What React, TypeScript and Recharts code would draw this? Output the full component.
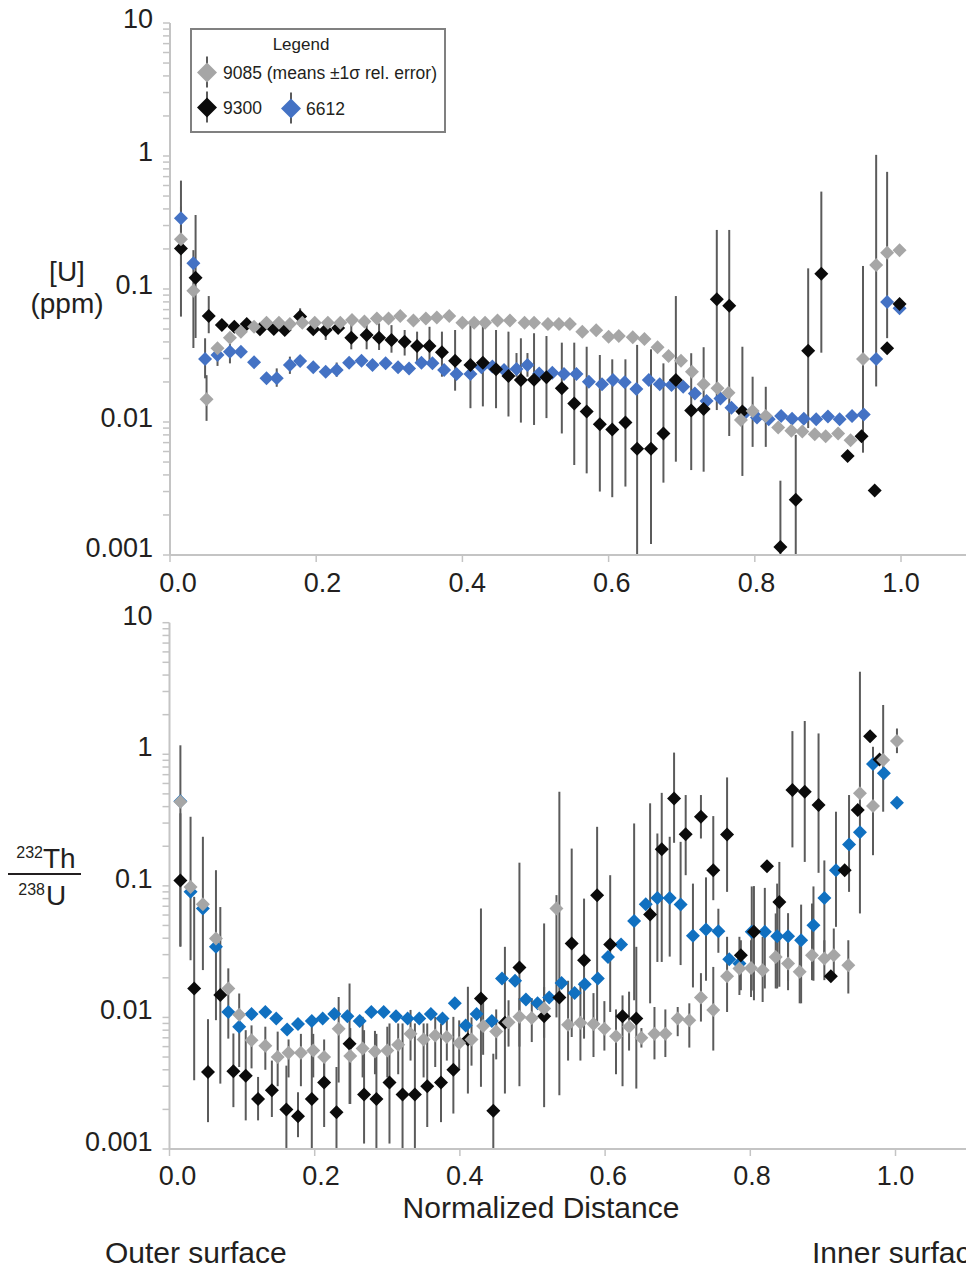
import { ScatterChart, Scatter, XAxis, YAxis, ErrorBar } from "recharts";

type Err = [number, number, number]; // [point index, lower end, upper end]

const FONT = '"Liberation Sans", Arial, Helvetica, sans-serif';
const INK = "#231f20";
const AXIS = "#c4c4c4";
const BAR = "#5b5b5b";

const xTicks = [0, 0.2, 0.4, 0.6, 0.8, 1.0];
const xTickLabels = ["0.0", "0.2", "0.4", "0.6", "0.8", "1.0"];
const decades = [0.001, 0.01, 0.1, 1, 10];
const decadeLabels = ["0.001", "0.01", "0.1", "1", "10"];
const minorSteps = [2, 3, 4, 5, 6, 7, 8, 9];

// ---- [U] (ppm) panel ----
const uGrayX = [0.015, 0.032, 0.05, 0.065, 0.082, 0.097, 0.115, 0.132, 0.149, 0.164, 0.181, 0.198, 0.216, 0.233, 0.249, 0.266, 0.283, 0.299, 0.315, 0.333, 0.35, 0.365, 0.382, 0.4, 0.416, 0.431, 0.448, 0.465, 0.485, 0.498, 0.517, 0.532, 0.547, 0.564, 0.583, 0.6, 0.614, 0.633, 0.649, 0.667, 0.682, 0.699, 0.714, 0.73, 0.749, 0.764, 0.781, 0.797, 0.815, 0.832, 0.85, 0.865, 0.882, 0.897, 0.914, 0.931, 0.948, 0.966, 0.981, 0.998];
const uGrayY = [0.237, 0.097, 0.0148, 0.0358, 0.043, 0.0478, 0.052, 0.0558, 0.0558, 0.0546, 0.0558, 0.0558, 0.0558, 0.0558, 0.0585, 0.057, 0.06, 0.06, 0.0627, 0.058, 0.06, 0.061, 0.0627, 0.0558, 0.0558, 0.0558, 0.058, 0.058, 0.0558, 0.0558, 0.0546, 0.0546, 0.0546, 0.0478, 0.049, 0.0438, 0.0443, 0.0434, 0.042, 0.0365, 0.0313, 0.0289, 0.0239, 0.0192, 0.0179, 0.0166, 0.01035, 0.0121, 0.0111, 0.0091, 0.0086, 0.0085, 0.0081, 0.0078, 0.0082, 0.0073, 0.0298, 0.1515, 0.1875, 0.196];
const uGrayErr: Err[] = [[0, 0.147, 0.416], [1, 0.036, 0.196], [2, 0.0102, 0.0225], [47, 0.0065, 0.0219], [48, 0.0065, 0.0184], [56, 0.00588, 0.149], [57, 0.0185, 1.02], [58, 0.0427, 0.76]];

const uBlackX = [0.015, 0.035, 0.053, 0.071, 0.088, 0.105, 0.123, 0.142, 0.157, 0.178, 0.196, 0.213, 0.23, 0.248, 0.269, 0.286, 0.303, 0.321, 0.338, 0.355, 0.372, 0.39, 0.411, 0.428, 0.446, 0.463, 0.48, 0.498, 0.515, 0.536, 0.553, 0.57, 0.588, 0.605, 0.623, 0.639, 0.658, 0.675, 0.692, 0.713, 0.73, 0.748, 0.765, 0.783, 0.835, 0.856, 0.873, 0.891, 0.927, 0.946, 0.964, 0.981, 0.998];
const uBlackY = [0.202, 0.1216, 0.0627, 0.0536, 0.052, 0.0546, 0.0498, 0.05, 0.0492, 0.062, 0.0498, 0.0492, 0.051, 0.043, 0.045, 0.043, 0.0414, 0.0402, 0.0373, 0.0373, 0.0334, 0.0289, 0.0268, 0.0279, 0.0249, 0.0222, 0.0207, 0.0208, 0.0217, 0.0179, 0.0138, 0.012, 0.0096, 0.0088, 0.0099, 0.0063, 0.0063, 0.0082, 0.0207, 0.0122, 0.0125, 0.0838, 0.0749, 0.012, 0.00115, 0.0026, 0.0344, 0.13, 0.00555, 0.0078, 0.00305, 0.0358, 0.077];
const uBlackErr: Err[] = [[0, 0.062, 0.653], [1, 0.0428, 0.36], [2, 0.0465, 0.0885], [9, 0.052, 0.0716], [11, 0.0414, 0.0566], [13, 0.0352, 0.0566], [14, 0.0352, 0.058], [15, 0.0348, 0.0552], [16, 0.0332, 0.0535], [17, 0.0316, 0.0492], [18, 0.0276, 0.0478], [19, 0.0276, 0.052], [20, 0.0219, 0.0478], [21, 0.0172, 0.0492], [22, 0.0127, 0.0535], [23, 0.0131, 0.0552], [24, 0.0127, 0.0492], [25, 0.011, 0.0478], [26, 0.0099, 0.0426], [27, 0.0095, 0.0465], [28, 0.0107, 0.0443], [29, 0.0082, 0.0395], [30, 0.00475, 0.0395], [31, 0.00411, 0.0368], [32, 0.003, 0.0319], [33, 0.00272, 0.0296], [34, 0.00327, 0.0296], [35, 0.001, 0.038], [36, 0.00121, 0.0352], [37, 0.0035, 0.0276], [38, 0.00503, 0.0885], [39, 0.00435, 0.0329], [40, 0.00423, 0.0365], [41, 0.0123, 0.278], [42, 0.00785, 0.278], [43, 0.00393, 0.0368], [44, 0.001, 0.00362], [45, 0.001, 0.008], [46, 0.009, 0.143], [47, 0.0332, 0.54]];

const uBlueX = [0.015, 0.032, 0.048, 0.065, 0.082, 0.097, 0.115, 0.132, 0.146, 0.164, 0.178, 0.196, 0.213, 0.228, 0.245, 0.262, 0.277, 0.295, 0.312, 0.327, 0.344, 0.359, 0.375, 0.392, 0.411, 0.426, 0.441, 0.457, 0.474, 0.489, 0.505, 0.523, 0.539, 0.556, 0.573, 0.591, 0.606, 0.622, 0.638, 0.655, 0.67, 0.686, 0.702, 0.718, 0.734, 0.753, 0.768, 0.786, 0.803, 0.819, 0.836, 0.851, 0.867, 0.884, 0.9, 0.916, 0.933, 0.949, 0.966, 0.981, 0.998];
const uBlueY = [0.34, 0.156, 0.0298, 0.0319, 0.0338, 0.0338, 0.0281, 0.0213, 0.0213, 0.0268, 0.0288, 0.0258, 0.0239, 0.0246, 0.0279, 0.0289, 0.0268, 0.0276, 0.0258, 0.0253, 0.0279, 0.0276, 0.0246, 0.023, 0.023, 0.0258, 0.0261, 0.0246, 0.025, 0.0268, 0.0232, 0.0235, 0.023, 0.023, 0.0201, 0.0192, 0.0207, 0.0199, 0.0177, 0.0207, 0.0192, 0.019, 0.0184, 0.0164, 0.0144, 0.015, 0.0128, 0.0116, 0.0108, 0.0105, 0.0111, 0.0106, 0.0106, 0.0105, 0.011, 0.0105, 0.0111, 0.0114, 0.0298, 0.08, 0.0716];
const uBlueErr: Err[] = [[2, 0.0213, 0.0426], [3, 0.0264, 0.0368], [4, 0.0276, 0.039], [8, 0.0184, 0.0253], [9, 0.023, 0.031], [13, 0.0219, 0.028], [28, 0.0219, 0.033], [29, 0.0219, 0.033]];

// ---- 232Th/238U panel ----
const rGrayX = [0.015, 0.029, 0.046, 0.064, 0.081, 0.096, 0.113, 0.132, 0.149, 0.164, 0.181, 0.198, 0.213, 0.233, 0.249, 0.266, 0.283, 0.3, 0.315, 0.332, 0.35, 0.366, 0.382, 0.399, 0.416, 0.432, 0.45, 0.467, 0.482, 0.499, 0.516, 0.533, 0.549, 0.566, 0.584, 0.599, 0.615, 0.633, 0.65, 0.668, 0.683, 0.7, 0.716, 0.732, 0.749, 0.768, 0.785, 0.801, 0.817, 0.835, 0.852, 0.868, 0.885, 0.902, 0.915, 0.935, 0.951, 0.969, 0.983, 1.002];
const rGrayY = [0.435, 0.098, 0.0726, 0.0398, 0.0166, 0.0105, 0.0067, 0.0061, 0.005, 0.0054, 0.0054, 0.0056, 0.005, 0.0082, 0.0051, 0.0058, 0.0055, 0.0056, 0.0062, 0.0075, 0.0068, 0.0073, 0.0071, 0.0064, 0.0068, 0.0086, 0.0078, 0.0092, 0.0101, 0.0099, 0.0117, 0.0673, 0.0088, 0.0091, 0.0089, 0.0082, 0.0072, 0.0085, 0.007, 0.0075, 0.0075, 0.0098, 0.0095, 0.0142, 0.0114, 0.0206, 0.0235, 0.0238, 0.0228, 0.0288, 0.0257, 0.0222, 0.0297, 0.028, 0.0297, 0.0249, 0.505, 0.404, 0.904, 1.26];
const rGrayErr: Err[] = [[0, 0.0348, 1.17], [1, 0.0272, 0.335], [2, 0.0229, 0.236], [3, 0.00953, 0.1315], [4, 0.0069, 0.0236], [5, 0.0042, 0.0152], [6, 0.0041, 0.0087], [7, 0.004, 0.0085], [8, 0.003, 0.0078], [9, 0.0035, 0.0068], [10, 0.003, 0.0075], [11, 0.0035, 0.0075], [12, 0.0032, 0.0068], [13, 0.0032, 0.0143], [14, 0.0022, 0.0083], [15, 0.0035, 0.0101], [16, 0.0037, 0.0079], [17, 0.0035, 0.0085], [18, 0.0037, 0.009], [19, 0.0047, 0.0114], [20, 0.0035, 0.009], [21, 0.0042, 0.0101], [22, 0.0047, 0.0101], [23, 0.004, 0.0095], [24, 0.0043, 0.01], [25, 0.0052, 0.0135], [26, 0.0048, 0.0115], [27, 0.006, 0.0135], [28, 0.006, 0.014], [29, 0.0065, 0.014], [30, 0.007, 0.017], [31, 0.01, 0.085], [32, 0.0047, 0.019], [33, 0.0047, 0.0185], [34, 0.005, 0.0153], [35, 0.0056, 0.0133], [36, 0.0037, 0.0115], [37, 0.0056, 0.0157], [38, 0.0059, 0.0083], [39, 0.0048, 0.012], [40, 0.005, 0.0115], [41, 0.0072, 0.012], [42, 0.0059, 0.0128], [43, 0.0093, 0.0217], [44, 0.0056, 0.0242], [45, 0.011, 0.041], [46, 0.0148, 0.041], [47, 0.0143, 0.0386], [48, 0.0131, 0.041], [49, 0.0166, 0.0617], [50, 0.0161, 0.046], [51, 0.0128, 0.0386], [52, 0.0192, 0.0734], [53, 0.0192, 0.0386], [54, 0.0203, 0.0474], [55, 0.0152, 0.0386], [56, 0.0617, 4.24], [57, 0.171, 1.14], [58, 0.366, 2.37], [59, 1.02, 1.57]];

const rBlackX = [0.015, 0.034, 0.053, 0.07, 0.088, 0.105, 0.122, 0.141, 0.161, 0.177, 0.196, 0.213, 0.23, 0.248, 0.268, 0.285, 0.303, 0.321, 0.338, 0.355, 0.374, 0.391, 0.411, 0.429, 0.446, 0.462, 0.482, 0.516, 0.537, 0.554, 0.571, 0.589, 0.607, 0.624, 0.643, 0.662, 0.678, 0.695, 0.711, 0.732, 0.749, 0.768, 0.787, 0.805, 0.823, 0.84, 0.858, 0.875, 0.894, 0.911, 0.93, 0.948, 0.965, 0.978];
const rBlackY = [0.11, 0.0166, 0.00385, 0.0148, 0.0039, 0.0036, 0.0024, 0.0028, 0.002, 0.00177, 0.0024, 0.0032, 0.0019, 0.0063, 0.0026, 0.0024, 0.0032, 0.0026, 0.0026, 0.003, 0.0032, 0.004, 0.0068, 0.0139, 0.00195, 0.0091, 0.024, 0.0102, 0.0142, 0.0365, 0.0272, 0.085, 0.0358, 0.0102, 0.0098, 0.0605, 0.19, 0.462, 0.247, 0.335, 0.1315, 0.246, 0.0297, 0.0447, 0.141, 0.0755, 0.535, 0.519, 0.411, 0.0206, 0.1315, 0.377, 1.37, 0.914];
const rBlackErr: Err[] = [[0, 0.0344, 0.356], [1, 0.00333, 0.0825], [2, 0.0016, 0.0097], [3, 0.00314, 0.069], [4, 0.00208, 0.00755], [5, 0.00165, 0.008], [6, 0.00165, 0.00353], [7, 0.00175, 0.0047], [8, 0.001, 0.0043], [9, 0.00123, 0.0027], [10, 0.001, 0.009], [11, 0.00147, 0.0047], [12, 0.001, 0.0042], [13, 0.0022, 0.0181], [14, 0.0011, 0.008], [15, 0.001, 0.0075], [16, 0.0011, 0.009], [17, 0.001, 0.009], [18, 0.001, 0.009], [19, 0.00147, 0.009], [20, 0.0016, 0.009], [21, 0.00186, 0.0101], [22, 0.00264, 0.0171], [23, 0.00297, 0.0673], [24, 0.001, 0.0053], [25, 0.00264, 0.0344], [26, 0.003, 0.15], [27, 0.00208, 0.0518], [28, 0.00256, 0.519], [29, 0.0071, 0.192], [30, 0.0069, 0.08], [31, 0.009, 0.281], [32, 0.011, 0.1205], [33, 0.003, 0.0147], [34, 0.00288, 0.0344], [35, 0.0128, 0.424], [36, 0.0264, 0.509], [37, 0.2124, 1.03], [38, 0.1205, 0.49], [39, 0.229, 0.49], [40, 0.0778, 0.339], [41, 0.09, 0.667], [42, 0.0161, 0.0386], [43, 0.0135, 0.0996], [45, 0.0171, 0.152], [46, 0.196, 1.5], [47, 0.152, 1.79], [48, 0.1256, 1.44]];

const rBlueX = [0.015, 0.029, 0.046, 0.064, 0.081, 0.096, 0.113, 0.132, 0.147, 0.162, 0.177, 0.196, 0.211, 0.227, 0.245, 0.262, 0.278, 0.295, 0.312, 0.328, 0.344, 0.36, 0.376, 0.393, 0.408, 0.423, 0.444, 0.458, 0.476, 0.491, 0.507, 0.523, 0.54, 0.558, 0.572, 0.59, 0.604, 0.622, 0.64, 0.656, 0.672, 0.689, 0.704, 0.721, 0.739, 0.756, 0.771, 0.785, 0.802, 0.82, 0.837, 0.852, 0.87, 0.887, 0.902, 0.918, 0.936, 0.951, 0.969, 0.984, 1.002];
const rBlueY = [0.44, 0.09, 0.0673, 0.0344, 0.011, 0.0085, 0.0106, 0.011, 0.0098, 0.0081, 0.0089, 0.0094, 0.0098, 0.0106, 0.0102, 0.0094, 0.011, 0.011, 0.0102, 0.0098, 0.0098, 0.0106, 0.0098, 0.0128, 0.0087, 0.0106, 0.0094, 0.0198, 0.019, 0.0137, 0.0128, 0.0142, 0.0183, 0.0153, 0.0179, 0.0198, 0.0288, 0.0358, 0.054, 0.0726, 0.081, 0.081, 0.0723, 0.0417, 0.0466, 0.0452, 0.0277, 0.0257, 0.0447, 0.0447, 0.0414, 0.0414, 0.0386, 0.0502, 0.081, 0.1315, 0.2065, 0.255, 0.843, 0.716, 0.428];
const rBlueErr: Err[] = [[38, 0.0135, 0.298], [40, 0.0264, 0.25], [41, 0.029, 0.236], [42, 0.025, 0.216], [43, 0.0169, 0.104], [44, 0.019, 0.116], [45, 0.031, 0.067], [48, 0.016, 0.099], [49, 0.0166, 0.0965], [50, 0.0166, 0.104], [51, 0.019, 0.062], [52, 0.0128, 0.072], [53, 0.019, 0.099], [54, 0.0258, 0.156], [55, 0.0488, 0.366], [56, 0.09, 0.49]];

type Series = { name: string; xs: number[]; ys: number[]; errs: Err[]; color: string };

const yTicks = [...decades, ...decades.slice(0, -1).flatMap((d) => minorSteps.map((m) => m * d))].sort((a, b) => a - b);

const pointRows = (s: Series) => s.xs.map((x, i) => ({ x, y: s.ys[i] }));
const errorRows = (s: Series) =>
  s.errs.map(([i, lo, hi]) => ({ x: s.xs[i], y: s.ys[i], err: [s.ys[i] - lo, hi - s.ys[i]] }));

const noMarker = () => <g />;
const diamond = (fill: string, r = 7) => (p: any) => {
  if (p.cx == null || p.cy == null) return <g />;
  const { cx, cy } = p;
  return <polygon points={`${cx},${cy - r} ${cx + r},${cy} ${cx},${cy + r} ${cx - r},${cy}`} fill={fill} />;
};

const makeYTick = (lift: number, lowLift: number) => (p: any) => {
  const i = decades.indexOf(p.payload.value);
  if (i < 0) return <g />;
  return (
    <text x={p.x - 8} y={p.y + (i === 0 ? lowLift : lift)} textAnchor="end" fontSize={27} fontFamily={FONT} fill={INK}>
      {decadeLabels[i]}
    </text>
  );
};

const makeXTick = (drop: number) => (p: any) => {
  const i = xTicks.indexOf(p.payload.value);
  return (
    <text x={p.x + 8 * (1 - p.payload.value)} y={p.y + drop} textAnchor="middle" fontSize={27} fontFamily={FONT} fill={INK}>
      {xTickLabels[i]}
    </text>
  );
};

function Panel(props: {
  series: Series[];
  height: number;
  marginTop: number;
  axisWidth: number;
  xMax: number;
  lift: number;
  lowLift: number;
  drop: number;
}) {
  const { series, height, marginTop, axisWidth, xMax, lift, lowLift, drop } = props;
  return (
    <ScatterChart width={966} height={height} margin={{ top: marginTop, right: 0, bottom: 0, left: 0 }}>
      <XAxis
        type="number"
        dataKey="x"
        domain={[0, xMax]}
        ticks={xTicks}
        interval={0}
        allowDataOverflow
        height={45}
        tickSize={7}
        tick={makeXTick(drop)}
        axisLine={{ stroke: AXIS, strokeWidth: 2 }}
        tickLine={{ stroke: AXIS, strokeWidth: 1.5 }}
      />
      <YAxis
        type="number"
        dataKey="y"
        scale="log"
        domain={[0.001, 10]}
        ticks={yTicks}
        interval={0}
        allowDataOverflow
        width={axisWidth}
        tickSize={7}
        tick={makeYTick(lift, lowLift)}
        axisLine={{ stroke: AXIS, strokeWidth: 2 }}
        tickLine={{ stroke: AXIS, strokeWidth: 1.5 }}
      />
      {series.map((s) => (
        <Scatter key={s.name + "-err"} data={errorRows(s)} shape={noMarker} isAnimationActive={false}>
          <ErrorBar dataKey="err" direction="y" width={0} stroke={BAR} strokeWidth={2} />
        </Scatter>
      ))}
      {series.map((s) => (
        <Scatter key={s.name} name={s.name} data={pointRows(s)} shape={diamond(s.color)} isAnimationActive={false} />
      ))}
    </ScatterChart>
  );
}

const uSeries: Series[] = [
  { name: "6612", xs: uBlueX, ys: uBlueY, errs: uBlueErr, color: "#4472c4" },
  { name: "9300", xs: uBlackX, ys: uBlackY, errs: uBlackErr, color: "#0b0b0b" },
  { name: "9085", xs: uGrayX, ys: uGrayY, errs: uGrayErr, color: "#a6a6a6" },
];
const rSeries: Series[] = [
  { name: "6612", xs: rBlueX, ys: rBlueY, errs: rBlueErr, color: "#1070c0" },
  { name: "9300", xs: rBlackX, ys: rBlackY, errs: rBlackErr, color: "#0b0b0b" },
  { name: "9085", xs: rGrayX, ys: rGrayY, errs: rGrayErr, color: "#a6a6a6" },
];

function LegendIcon({ x, y, color }: { x: number; y: number; color: string }) {
  const r = 10;
  return (
    <g>
      <line x1={x} x2={x} y1={y - 16} y2={y + 15} stroke={BAR} strokeWidth={2} />
      <polygon points={`${x},${y - r} ${x + r},${y} ${x},${y + r} ${x - r},${y}`} fill={color} />
    </g>
  );
}

export default function App() {
  return (
    <div style={{ position: "absolute", left: 0, top: 0, width: 966, height: 1270, background: "#fff", overflow: "hidden" }}>
      <div style={{ position: "absolute", left: 0, top: 0 }}>
        <Panel series={uSeries} height={600} marginTop={23} axisWidth={170} xMax={1.0889} lift={5} lowLift={2} drop={28} />
      </div>
      <div style={{ position: "absolute", left: 0, top: 600 }}>
        <Panel series={rSeries} height={594} marginTop={22.7} axisWidth={169.5} xMax={1.0971} lift={2} lowLift={2} drop={27} />
      </div>
      <svg width={966} height={1270} style={{ position: "absolute", left: 0, top: 0, pointerEvents: "none" }} fontFamily={FONT} fill={INK}>
        {/* legend */}
        <rect x={191} y={29} width={254} height={103} fill="#fff" stroke="#808080" strokeWidth={2} />
        <text x={301} y={50} fontSize={17} textAnchor="middle">Legend</text>
        <LegendIcon x={207} y={72.5} color="#a6a6a6" />
        <text x={223} y={79} fontSize={17.5}>9085 (means ±1σ rel. error)</text>
        <LegendIcon x={207} y={107.5} color="#0b0b0b" />
        <text x={223} y={114} fontSize={17.5}>9300</text>
        <LegendIcon x={291} y={108.5} color="#4472c4" />
        <text x={306} y={115} fontSize={17.5}>6612</text>

        {/* top y label */}
        <text x={67} y={281} fontSize={28} textAnchor="middle">[U]</text>
        <text x={67} y={313} fontSize={28} textAnchor="middle">(ppm)</text>

        {/* bottom y label: 232Th / 238U */}
        <text x={43} y={858} fontSize={16} textAnchor="end">232</text>
        <text x={43} y={868} fontSize={28}>Th</text>
        <line x1={8} x2={81} y1={874} y2={874} stroke={INK} strokeWidth={2} />
        <text x={45} y={895} fontSize={16} textAnchor="end">238</text>
        <text x={46} y={905} fontSize={28}>U</text>

        <text x={541} y={1218} fontSize={30} textAnchor="middle">Normalized Distance</text>
        <text x={105} y={1263} fontSize={30}>Outer surface</text>
        <text x={812} y={1263} fontSize={30}>Inner surface</text>
      </svg>
    </div>
  );
}
